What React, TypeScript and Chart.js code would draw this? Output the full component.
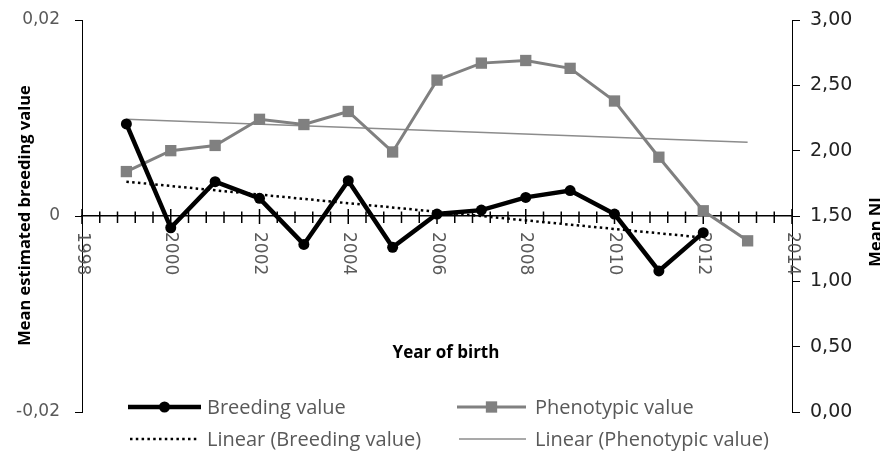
import React, { useEffect, useRef } from 'react';
import { Chart, registerables } from 'chart.js';

Chart.register(...registerables);

// ---- data ----
const breedingYears = [1999, 2000, 2001, 2002, 2003, 2004, 2005, 2006, 2007, 2008, 2009, 2010, 2011, 2012];
const breedingValues = [0.0094, -0.0012, 0.0035, 0.0018, -0.0029, 0.0036, -0.0032, 0.0002, 0.0006, 0.0019, 0.0026, 0.0002, -0.0056, -0.0017];

const phenoYears = [1999, 2000, 2001, 2002, 2003, 2004, 2005, 2006, 2007, 2008, 2009, 2010, 2011, 2012, 2013];
const phenoValues = [1.84, 2.0, 2.04, 2.24, 2.2, 2.3, 1.99, 2.54, 2.67, 2.69, 2.63, 2.38, 1.95, 1.54, 1.31];

const breedingTrendYears = [1999, 2012];
const breedingTrendValues = [0.0035, -0.0022];

const phenoTrendYears = [1999, 2013];
const phenoTrendValues = [2.24, 2.065];

const seriesLabels = ['Breeding value', 'Phenotypic value', 'Linear (Breeding value)', 'Linear (Phenotypic value)'];
const xTitle = 'Year of birth';
const yLeftTitle = 'Mean estimated breeding value';
const yRightTitle = 'Mean NI';

const xMin = 1998;
const xMax = 2014;
const xMajorStep = 2;
const xMinorStep = 0.4;
const yLeftMin = -0.02;
const yLeftMax = 0.02;
const yLeftStep = 0.02;
const yRightMin = 0;
const yRightMax = 3;
const yRightStep = 0.5;

const toPoints = (xs: number[], ys: number[]) => xs.map((x, i) => ({ x, y: ys[i] }));

const fmtLeft = (v: number) => (Math.abs(v) < 1e-9 ? '0' : v.toFixed(2).replace('.', ','));
const fmtRight = (v: number) => v.toFixed(2).replace('.', ',');

const zeroPad = (s: any) => {
  s.paddingTop = 0;
  s.paddingBottom = 0;
  s.paddingLeft = 0;
  s.paddingRight = 0;
};

const customPlugin = {
  id: 'customDecor',
  beforeDatasetsDraw(chart: any) {
    const { ctx, scales } = chart;
    const x = scales.x;
    const y = scales.y;
    const y0 = y.getPixelForValue(0);
    ctx.save();
    // crossing tick marks (major + minor)
    ctx.strokeStyle = '#000';
    ctx.lineWidth = 1.5;
    const n = Math.round((xMax - xMin) / xMinorStep);
    const perMajor = Math.round(xMajorStep / xMinorStep);
    for (let i = 0; i <= n; i++) {
      const v = xMin + i * xMinorStep;
      const px = x.getPixelForValue(v);
      const major = i % perMajor === 0;
      ctx.beginPath();
      ctx.moveTo(px, y0 - (major ? 7 : 4.5));
      ctx.lineTo(px, y0 + (major ? 8 : 7));
      ctx.stroke();
    }
    // rotated x tick labels (reading top to bottom)
    ctx.fillStyle = '#595959';
    ctx.font = '17px "DejaVu Sans"';
    ctx.textAlign = 'left';
    ctx.textBaseline = 'middle';
    x.ticks.forEach((t: any) => {
      const px = x.getPixelForValue(t.value);
      ctx.save();
      ctx.translate(px, y0 + 16);
      ctx.rotate(Math.PI / 2);
      ctx.fillText(String(Math.round(t.value)), 0, 0);
      ctx.restore();
    });
    ctx.restore();
  },
  afterDraw(chart: any) {
    const { ctx } = chart;
    const ds = chart.data.datasets;
    ctx.save();
    // axis titles
    ctx.fillStyle = '#000';
    ctx.font = 'bold 17px "Open Sans"';
    ctx.textAlign = 'center';
    ctx.textBaseline = 'alphabetic';
    ctx.fillText(xTitle, 446, 358);

    ctx.font = 'bold 16.5px "Open Sans"';
    ctx.save();
    ctx.translate(30, 215.5);
    ctx.rotate(-Math.PI / 2);
    ctx.fillText(yLeftTitle, 0, 0);
    ctx.restore();

    ctx.save();
    ctx.translate(881, 232);
    ctx.rotate(-Math.PI / 2);
    ctx.fillText(yRightTitle, 0, 0);
    ctx.restore();

    // legend
    const items = [
      { i: 0, x1: 128, x2: 201, tx: 207, y: 407 },
      { i: 1, x1: 457, x2: 526, tx: 535, y: 407 },
      { i: 2, x1: 130, x2: 198, tx: 207, y: 439 },
      { i: 3, x1: 459, x2: 526, tx: 535, y: 439 },
    ];
    items.forEach((it) => {
      const d = ds[it.i];
      ctx.save();
      ctx.strokeStyle = d.borderColor;
      ctx.lineWidth = d.borderWidth;
      ctx.setLineDash(d.borderDash || []);
      ctx.beginPath();
      ctx.moveTo(it.x1, it.y);
      ctx.lineTo(it.x2, it.y);
      ctx.stroke();
      ctx.setLineDash([]);
      const cx = (it.x1 + it.x2) / 2;
      if (d.pointRadius > 0) {
        ctx.fillStyle = d.pointBackgroundColor;
        if (d.pointStyle === 'rect') {
          const s = d.pointRadius * Math.SQRT1_2;
          ctx.fillRect(cx - s, it.y - s, 2 * s, 2 * s);
        } else {
          ctx.beginPath();
          ctx.arc(cx, it.y, d.pointRadius, 0, Math.PI * 2);
          ctx.fill();
        }
      }
      ctx.restore();
      ctx.fillStyle = '#595959';
      ctx.font = '20px "Open Sans"';
      ctx.textAlign = 'left';
      ctx.textBaseline = 'alphabetic';
      ctx.fillText(d.label, it.tx, it.y + 6.5);
    });
    ctx.restore();
  },
};

export default function App() {
  const ref = useRef<HTMLCanvasElement>(null);

  useEffect(() => {
    if (!ref.current) return;
    const chart = new Chart(ref.current, {
      type: 'line',
      data: {
        datasets: [
          {
            label: seriesLabels[0],
            data: toPoints(breedingYears, breedingValues),
            xAxisID: 'x',
            yAxisID: 'y',
            borderColor: '#000000',
            borderWidth: 4.5,
            pointRadius: 5.5,
            pointBackgroundColor: '#000000',
            pointBorderColor: '#000000',
            pointBorderWidth: 0,
            tension: 0,
          },
          {
            label: seriesLabels[1],
            data: toPoints(phenoYears, phenoValues),
            xAxisID: 'x',
            yAxisID: 'y1',
            borderColor: '#808080',
            borderWidth: 3,
            pointStyle: 'rect',
            pointRadius: 8,
            pointBackgroundColor: '#808080',
            pointBorderColor: '#808080',
            pointBorderWidth: 0,
            tension: 0,
          },
          {
            label: seriesLabels[2],
            data: toPoints(breedingTrendYears, breedingTrendValues),
            xAxisID: 'x',
            yAxisID: 'y',
            borderColor: '#000000',
            borderWidth: 2.5,
            borderDash: [2.5, 3.3],
            pointRadius: 0,
            tension: 0,
          },
          {
            label: seriesLabels[3],
            data: toPoints(phenoTrendYears, phenoTrendValues),
            xAxisID: 'x',
            yAxisID: 'y1',
            borderColor: '#8c8c8c',
            borderWidth: 1.5,
            pointRadius: 0,
            tension: 0,
          },
        ],
      } as any,
      options: {
        animation: false,
        responsive: true,
        maintainAspectRatio: false,
        layout: { padding: { top: 20, bottom: 48, left: 0, right: 0 } },
        plugins: { legend: { display: false }, tooltip: { enabled: false } },
        events: [],
        scales: {
          x: {
            type: 'linear',
            position: { y: 0 } as any,
            min: xMin,
            max: xMax,
            ticks: { stepSize: xMajorStep, display: false },
            grid: { display: false, drawTicks: false },
            border: { display: true, color: '#000', width: 1.5 },
            afterFit: zeroPad,
          },
          y: {
            type: 'linear',
            position: 'left',
            min: yLeftMin,
            max: yLeftMax,
            ticks: {
              stepSize: yLeftStep,
              padding: 15,
              color: '#595959',
              font: { family: 'DejaVu Sans', size: 17 },
              callback: (v: any) => fmtLeft(Number(v)),
            },
            grid: { display: true, drawOnChartArea: false, drawTicks: true, tickLength: 7, color: '#000' },
            border: { display: true, color: '#000', width: 1 },
            afterFit: (s: any) => {
              s.width = 82;
              zeroPad(s);
            },
          },
          y1: {
            type: 'linear',
            position: 'right',
            min: yRightMin,
            max: yRightMax,
            ticks: {
              stepSize: yRightStep,
              padding: 10,
              color: '#222',
              font: { family: 'DejaVu Sans', size: 19 },
              callback: (v: any) => fmtRight(Number(v)),
            },
            grid: { display: true, drawOnChartArea: false, drawTicks: true, tickLength: 8, color: '#000' },
            border: { display: true, color: '#000', width: 1 },
            afterFit: (s: any) => {
              s.width = 88;
              zeroPad(s);
            },
          },
        },
      } as any,
      plugins: [customPlugin],
    });
    return () => chart.destroy();
  }, []);

  return (
    <div style={{ position: 'fixed', left: 0, top: 0, width: 880, height: 460, background: '#fff' }}>
      <canvas ref={ref} />
    </div>
  );
}
